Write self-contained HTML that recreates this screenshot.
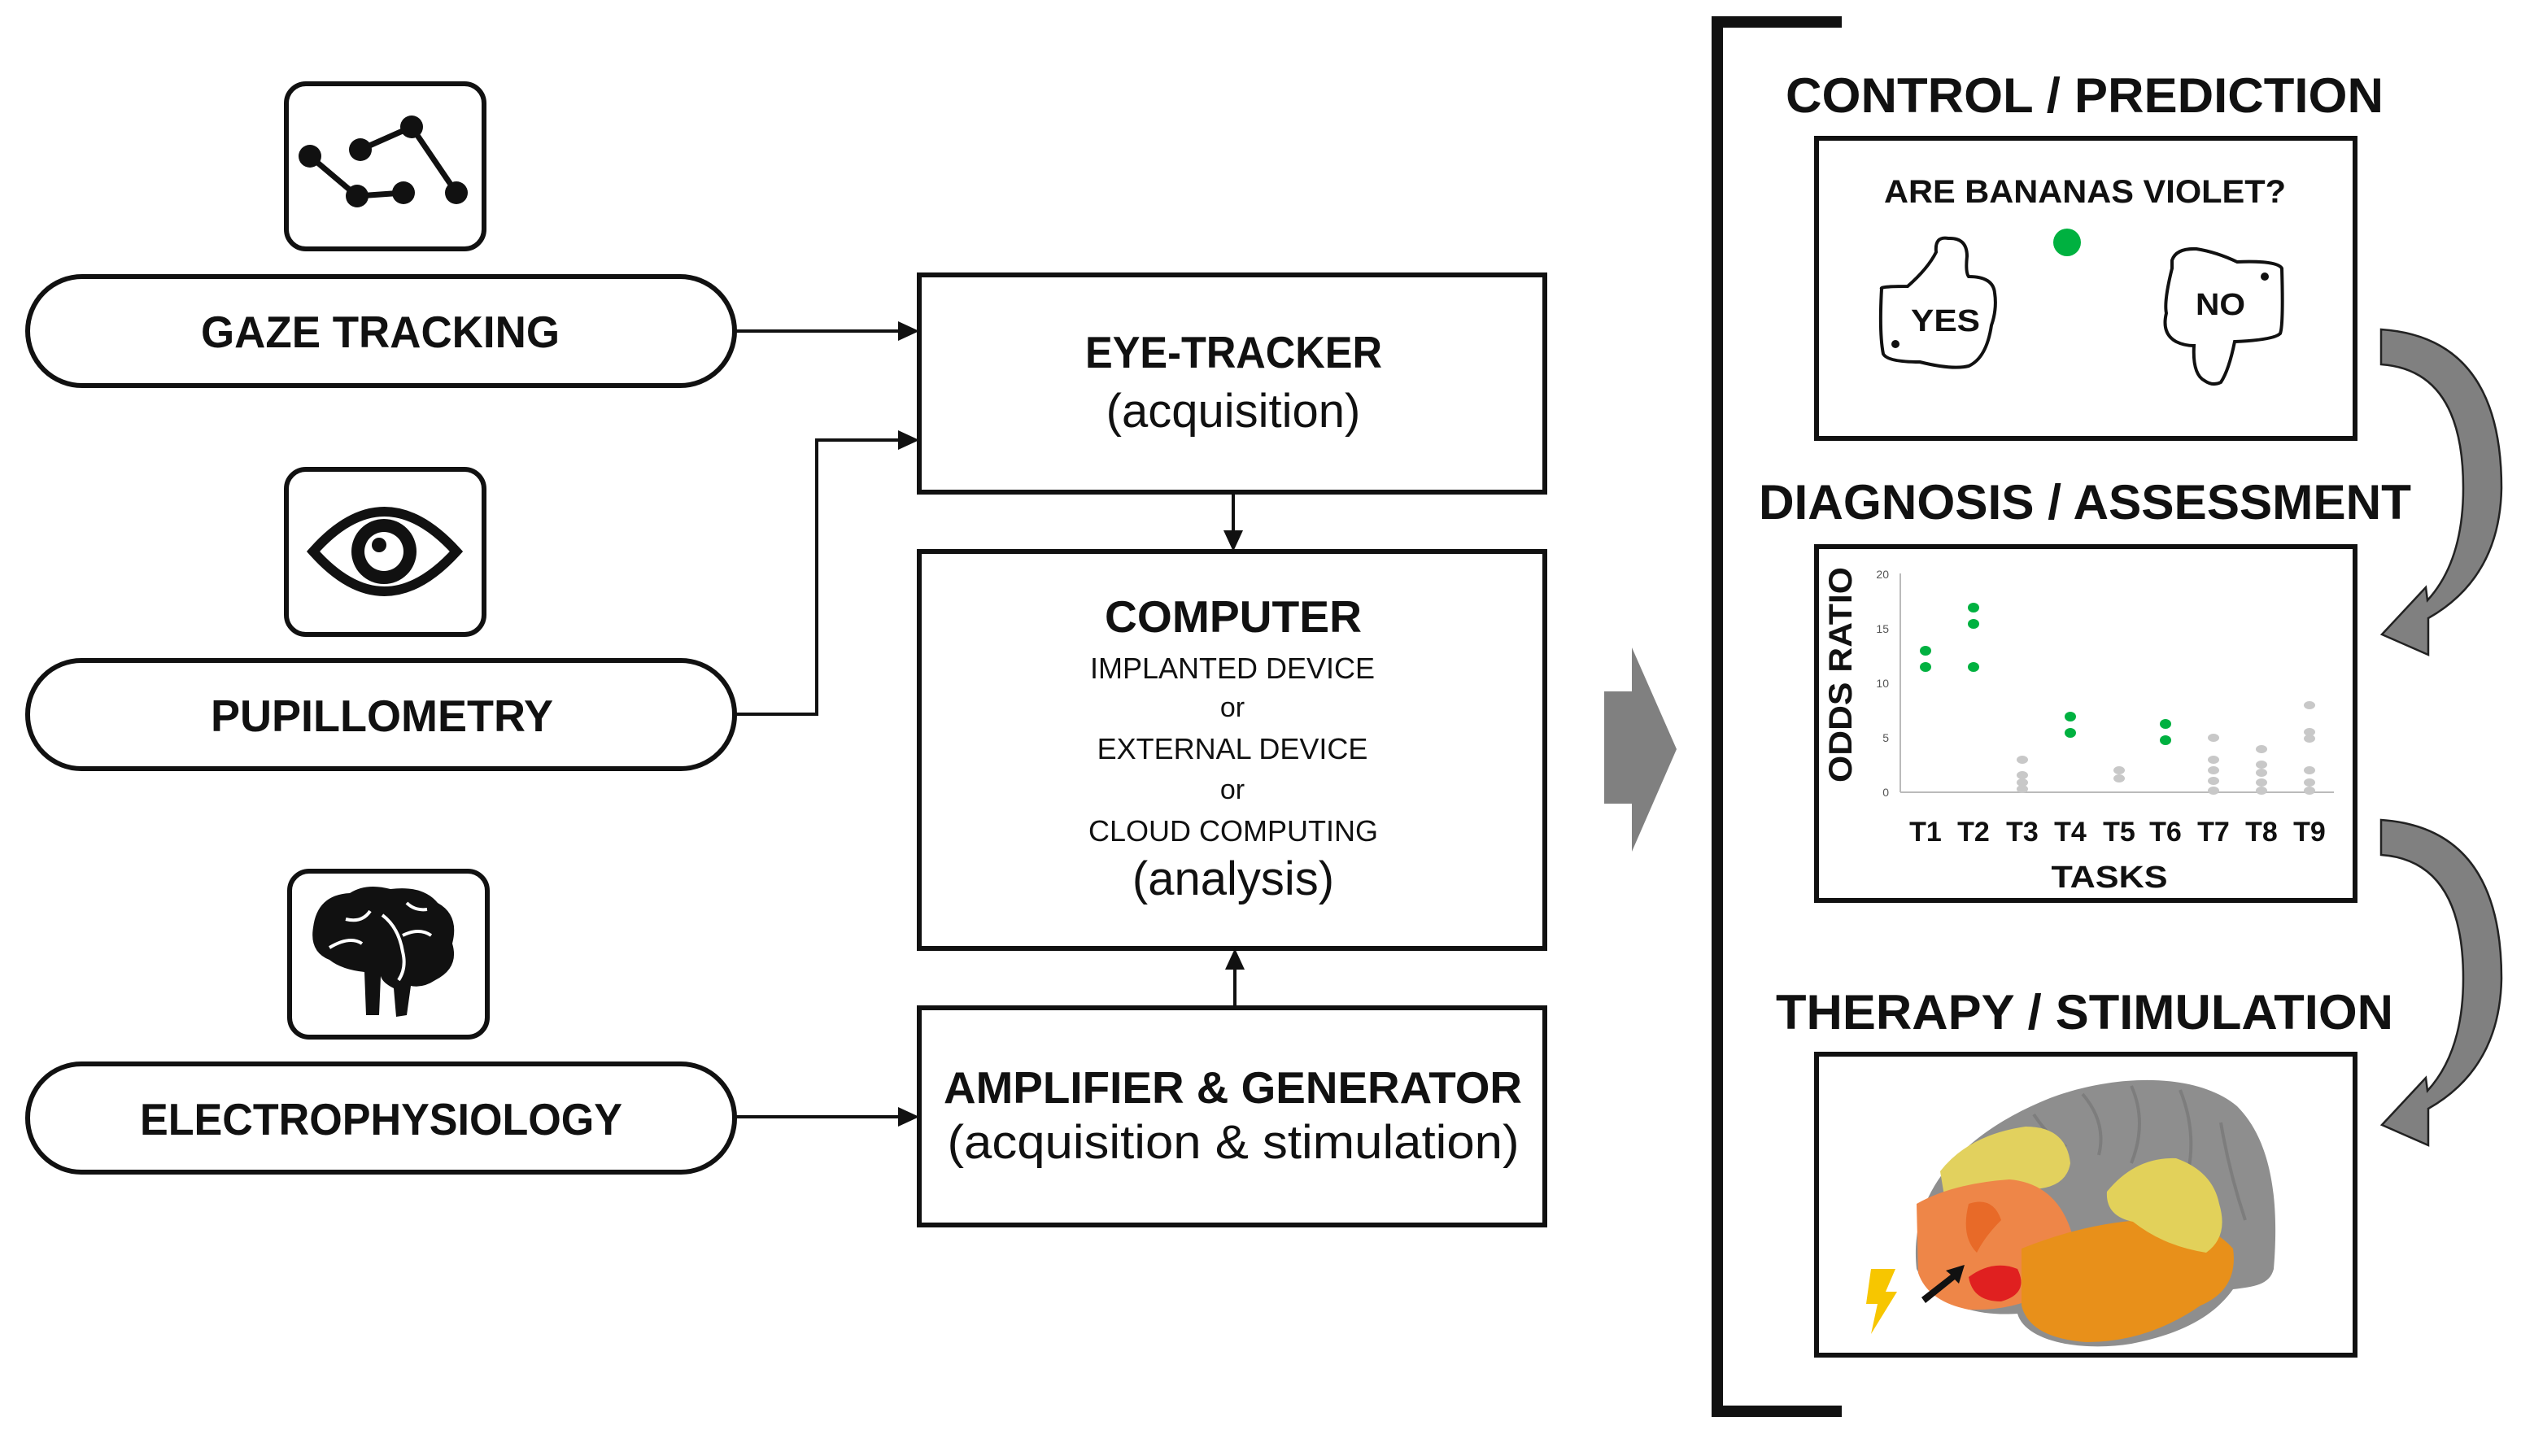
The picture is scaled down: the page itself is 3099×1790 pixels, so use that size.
<!DOCTYPE html>
<html><head><meta charset="utf-8"><style>
html,body{margin:0;padding:0;background:#fff;width:3099px;height:1790px;overflow:hidden}
svg{display:block}
.c{font-family:"Liberation Sans",sans-serif;font-weight:bold}
.n{font-family:"Liberation Sans",sans-serif}
</style></head><body>
<svg width="3099" height="1790" viewBox="0 0 3099 1790" xmlns="http://www.w3.org/2000/svg">
<!-- icon boxes -->
<g fill="#fff" stroke="#111" stroke-width="6">
<rect x="352" y="103" width="243" height="203" rx="24"/>
<rect x="352" y="577" width="243" height="203" rx="24"/>
<rect x="356" y="1071" width="243" height="204" rx="24"/>
<rect x="34" y="340" width="869" height="134" rx="67"/>
<rect x="34" y="812" width="869" height="133" rx="66"/>
<rect x="34" y="1308" width="869" height="133" rx="66"/>
<rect x="1130" y="338" width="769" height="267"/>
<rect x="1130" y="678" width="769" height="488"/>
<rect x="1130" y="1239" width="769" height="267"/>
</g>
<!-- gaze icon -->
<g stroke="#111" stroke-width="7" fill="none">
<polyline points="381,192 439,241 496,237"/>
<polyline points="443,184 506,156 561,237"/>
</g>
<g fill="#111">
<circle cx="381" cy="192" r="14"/><circle cx="443" cy="184" r="14"/><circle cx="506" cy="156" r="14"/>
<circle cx="439" cy="241" r="14"/><circle cx="496" cy="237" r="14"/><circle cx="561" cy="237" r="14"/>
</g>
<!-- eye icon -->
<path d="M385,678 Q472,580 561,678 Q472,776 385,678 Z" fill="none" stroke="#111" stroke-width="12"/>
<circle cx="472" cy="678" r="40" fill="#111"/>
<circle cx="472" cy="678" r="24" fill="#fff"/>
<circle cx="466" cy="670" r="9" fill="#111"/>
<!-- brain icon -->
<path d="M385,1140 Q390,1100 430,1098 Q450,1085 480,1093 Q520,1088 538,1110 Q565,1125 556,1160 Q565,1190 535,1205 Q520,1215 505,1212 L500,1248 L487,1250 L484,1215 Q470,1208 468,1200 L466,1248 L450,1248 L448,1195 Q420,1192 405,1180 Q380,1170 385,1140 Z" fill="#111"/>
<g stroke="#fff" stroke-width="4" fill="none">
<path d="M405,1165 Q430,1150 445,1160"/><path d="M425,1130 Q445,1135 455,1120"/>
<path d="M470,1125 Q490,1140 495,1170 Q500,1190 490,1205"/><path d="M495,1150 Q515,1140 530,1150"/><path d="M500,1110 Q510,1120 525,1118"/>
</g>
<!-- left labels -->
<g class="c" font-size="55" fill="#111">
<text x="247" y="427" textLength="441" lengthAdjust="spacingAndGlyphs">GAZE TRACKING</text>
<text x="259" y="899" textLength="421" lengthAdjust="spacingAndGlyphs">PUPILLOMETRY</text>
<text x="172" y="1395" textLength="593" lengthAdjust="spacingAndGlyphs">ELECTROPHYSIOLOGY</text>
<text x="1334" y="452" textLength="365" lengthAdjust="spacingAndGlyphs">EYE-TRACKER</text>
<text x="1358" y="777" textLength="316" lengthAdjust="spacingAndGlyphs">COMPUTER</text>
<text x="1160" y="1356" textLength="711" lengthAdjust="spacingAndGlyphs">AMPLIFIER &amp; GENERATOR</text>
</g>
<g class="n" fill="#111" text-anchor="middle">
<text x="1516" y="525" font-size="58">(acquisition)</text>
<text x="1515" y="834" font-size="36">IMPLANTED DEVICE</text>
<text x="1515" y="881" font-size="34">or</text>
<text x="1515" y="933" font-size="36">EXTERNAL DEVICE</text>
<text x="1515" y="982" font-size="34">or</text>
<text x="1516" y="1034" font-size="36">CLOUD COMPUTING</text>
<text x="1516" y="1100" font-size="58">(analysis)</text>
<text x="1516" y="1424" font-size="58" textLength="703" lengthAdjust="spacingAndGlyphs">(acquisition &amp; stimulation)</text>
</g>
<!-- connectors -->
<g stroke="#111" stroke-width="4" fill="none">
<line x1="903" y1="407" x2="1108" y2="407"/>
<polyline points="903,878 1004,878 1004,541 1108,541"/>
<line x1="903" y1="1373" x2="1108" y2="1373"/>
<line x1="1516" y1="605" x2="1516" y2="656"/>
<line x1="1518" y1="1239" x2="1518" y2="1188"/>
</g>
<g fill="#111">
<polygon points="1130,407 1104,395 1104,419"/>
<polygon points="1130,541 1104,529 1104,553"/>
<polygon points="1130,1373 1104,1361 1104,1385"/>
<polygon points="1516,678 1504,652 1528,652"/>
<polygon points="1518,1166 1506,1192 1530,1192"/>
</g>
<!-- big arrow -->
<polygon points="1972,850 2006,850 2006,796 2061,921 2006,1047 2006,988 1972,988" fill="#808080"/>
<!-- bracket -->
<g fill="#111">
<rect x="2104" y="20" width="14" height="1722"/>
<rect x="2104" y="20" width="160" height="14"/>
<rect x="2104" y="1728" width="160" height="14"/>
</g>
<!-- right headings -->
<g class="c" fill="#111" font-size="60">
<text x="2195" y="138" textLength="735" lengthAdjust="spacingAndGlyphs">CONTROL / PREDICTION</text>
<text x="2162" y="638" textLength="802" lengthAdjust="spacingAndGlyphs">DIAGNOSIS / ASSESSMENT</text>
<text x="2183" y="1265" textLength="759" lengthAdjust="spacingAndGlyphs">THERAPY / STIMULATION</text>
</g>
<g fill="none" stroke="#111" stroke-width="6">
<rect x="2233" y="170" width="662" height="369"/>
<rect x="2233" y="672" width="662" height="435"/>
<rect x="2233" y="1296" width="662" height="370"/>
</g>
<!-- box 1 -->
<text class="c" x="2316" y="249" font-size="40" textLength="494" lengthAdjust="spacingAndGlyphs" fill="#111">ARE BANANAS VIOLET?</text>
<circle cx="2541" cy="298" r="17" fill="#00b140"/>
<path d="M2313,355 Q2310,352 2345,352 Q2370,330 2380,310 Q2378,290 2395,293 Q2418,292 2418,315 Q2416,335 2420,340 Q2450,340 2452,360 Q2455,380 2448,400 Q2442,440 2420,450 Q2400,455 2360,445 Q2320,445 2315,435 Q2310,410 2313,355 Z" fill="#fff" stroke="#111" stroke-width="4"/>
<circle cx="2330" cy="423" r="5" fill="#111"/>
<text class="c" x="2349" y="407" font-size="38" textLength="85" lengthAdjust="spacingAndGlyphs" fill="#111">YES</text>
<path d="M2670,320 Q2675,305 2700,306 Q2725,310 2750,322 Q2800,320 2805,330 Q2807,400 2803,410 Q2795,418 2747,420 Q2740,455 2730,470 Q2720,475 2710,468 Q2695,460 2697,425 Q2685,425 2675,420 Q2657,410 2663,385 Q2660,370 2670,330 Z" fill="#fff" stroke="#111" stroke-width="4"/>
<circle cx="2784" cy="340" r="5" fill="#111"/>
<text class="c" x="2699" y="387" font-size="38" textLength="61" lengthAdjust="spacingAndGlyphs" fill="#111">NO</text>
<!-- chart -->
<g stroke="#bbb" stroke-width="2">
<line x1="2336" y1="705" x2="2336" y2="974"/>
<line x1="2336" y1="974" x2="2869" y2="974"/>
</g>
<g class="n" font-size="14" fill="#555" text-anchor="end">
<text x="2322" y="979">0</text><text x="2322" y="912">5</text><text x="2322" y="845">10</text><text x="2322" y="778">15</text><text x="2322" y="711">20</text>
</g>
<text class="c" transform="translate(2276,962) rotate(-90)" font-size="40" textLength="265" lengthAdjust="spacingAndGlyphs" fill="#111">ODDS RATIO</text>
<g class="c" font-size="34" fill="#111" text-anchor="middle">
<text x="2367" y="1034">T1</text><text x="2426" y="1034">T2</text><text x="2486" y="1034">T3</text><text x="2545" y="1034">T4</text><text x="2605" y="1034">T5</text><text x="2662" y="1034">T6</text><text x="2721" y="1034">T7</text><text x="2780" y="1034">T8</text><text x="2839" y="1034">T9</text>
<text x="2593" y="1091" font-size="38" textLength="143" lengthAdjust="spacingAndGlyphs">TASKS</text>
</g>
<g fill="#00b140">
<ellipse cx="2367" cy="800" rx="7" ry="6"/><ellipse cx="2367" cy="820" rx="7" ry="6"/>
<ellipse cx="2426" cy="747" rx="7" ry="6"/><ellipse cx="2426" cy="767" rx="7" ry="6"/><ellipse cx="2426" cy="820" rx="7" ry="6"/>
<ellipse cx="2545" cy="881" rx="7" ry="6"/><ellipse cx="2545" cy="901" rx="7" ry="6"/>
<ellipse cx="2662" cy="890" rx="7" ry="6"/><ellipse cx="2662" cy="910" rx="7" ry="6"/>
</g>
<g fill="#c8c8c8">
<ellipse cx="2486" cy="934" rx="7" ry="5"/><ellipse cx="2486" cy="953" rx="7" ry="5"/><ellipse cx="2486" cy="962" rx="7" ry="5"/><ellipse cx="2486" cy="970" rx="7" ry="5"/>
<ellipse cx="2605" cy="947" rx="7" ry="5"/><ellipse cx="2605" cy="957" rx="7" ry="5"/>
<ellipse cx="2721" cy="907" rx="7" ry="5"/><ellipse cx="2721" cy="934" rx="7" ry="5"/><ellipse cx="2721" cy="947" rx="7" ry="5"/><ellipse cx="2721" cy="960" rx="7" ry="5"/><ellipse cx="2721" cy="972" rx="7" ry="5"/>
<ellipse cx="2780" cy="921" rx="7" ry="5"/><ellipse cx="2780" cy="940" rx="7" ry="5"/><ellipse cx="2780" cy="950" rx="7" ry="5"/><ellipse cx="2780" cy="962" rx="7" ry="5"/><ellipse cx="2780" cy="972" rx="7" ry="5"/>
<ellipse cx="2839" cy="867" rx="7" ry="5"/><ellipse cx="2839" cy="900" rx="7" ry="5"/><ellipse cx="2839" cy="908" rx="7" ry="5"/><ellipse cx="2839" cy="947" rx="7" ry="5"/><ellipse cx="2839" cy="962" rx="7" ry="5"/><ellipse cx="2839" cy="972" rx="7" ry="5"/>
</g>
<!-- curved arrows -->
<g fill="#808080" stroke="#222" stroke-width="2.5">
<path d="M2927,405 Q3075,415 3075,600 Q3073,710 2985,760 L2985,805 L2928,780 L2982,722 L2984,738 Q3028,690 3028,600 Q3028,455 2927,448 Z"/>
<path d="M2927,1008 Q3075,1018 3075,1203 Q3073,1313 2985,1363 L2985,1408 L2928,1383 L2982,1325 L2984,1341 Q3028,1293 3028,1203 Q3028,1058 2927,1051 Z"/>
</g>
<!-- brain -->
<path d="M2356,1560 C2345,1460 2420,1390 2520,1350 C2600,1320 2700,1318 2750,1360 C2800,1410 2800,1500 2795,1560 C2790,1580 2770,1582 2745,1585 C2720,1620 2680,1640 2620,1652 C2560,1662 2490,1650 2480,1615 C2440,1618 2380,1610 2356,1560 Z" fill="#8e8e8e"/>
<g fill="none" stroke="#777" stroke-width="4" opacity="0.7">
<path d="M2560,1345 Q2590,1380 2580,1420"/><path d="M2620,1335 Q2640,1380 2620,1430"/><path d="M2680,1340 Q2700,1390 2690,1440"/><path d="M2730,1380 Q2740,1440 2760,1500"/><path d="M2500,1370 Q2520,1400 2540,1410"/>
</g>
<path d="M2385,1440 Q2420,1395 2490,1385 Q2540,1385 2545,1430 Q2540,1460 2500,1462 Q2440,1462 2390,1470 Z" fill="#e2d15e"/>
<path d="M2356,1480 Q2400,1455 2470,1450 Q2530,1455 2548,1520 Q2545,1575 2510,1592 Q2470,1612 2420,1610 Q2370,1600 2358,1565 Z" fill="#ee8648"/>
<path d="M2420,1480 Q2450,1470 2460,1500 Q2440,1520 2430,1540 Q2410,1520 2420,1480 Z" fill="#e86a28"/>
<path d="M2420,1570 Q2450,1548 2480,1560 Q2495,1590 2460,1600 Q2425,1600 2420,1570 Z" fill="#e02020"/>
<path d="M2485,1535 Q2560,1505 2630,1500 Q2710,1495 2745,1535 Q2752,1585 2705,1605 Q2640,1650 2565,1650 Q2495,1645 2485,1605 Z" fill="#e8901a"/>
<path d="M2590,1465 Q2625,1422 2675,1424 Q2720,1440 2728,1480 Q2740,1520 2712,1540 Q2660,1532 2622,1502 Q2588,1495 2590,1465 Z" fill="#e2d15a"/>
<!-- stim arrow & bolt -->
<polygon points="2362,1595 2398,1567 2392,1562 2415,1555 2408,1578 2403,1573 2367,1602" fill="#111"/>
<polygon points="2300,1560 2330,1560 2318,1588 2332,1588 2300,1640 2308,1603 2294,1603" fill="#f7c600"/>
</svg>
</body></html>
